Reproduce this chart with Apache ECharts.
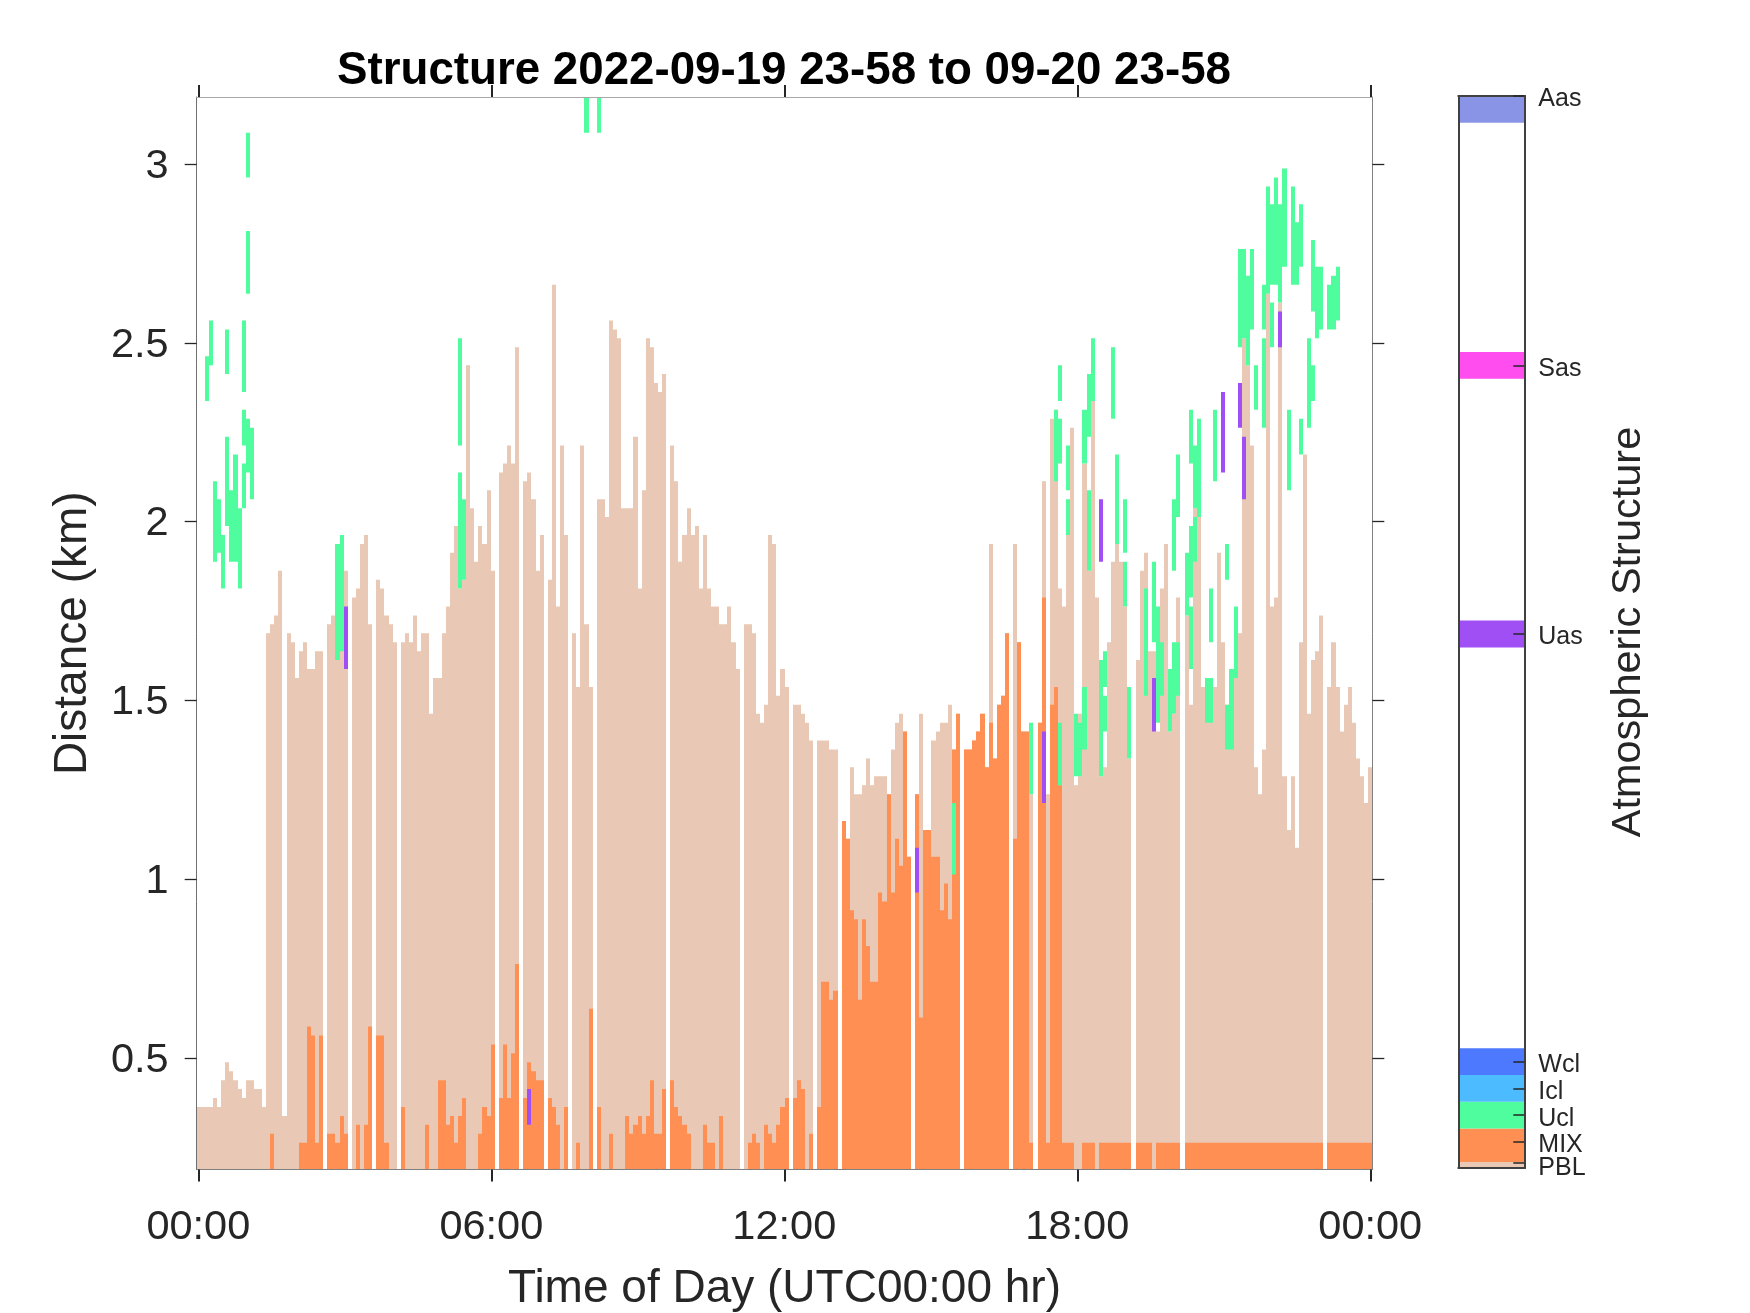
<!DOCTYPE html>
<html><head><meta charset="utf-8">
<style>html,body{margin:0;padding:0;background:#fff}#c{width:1750px;height:1313px}</style>
<script src="https://cdn.jsdelivr.net/npm/echarts@6/dist/echarts.min.js"></script>
</head><body><div id="c"></div>
<script>
const n = null;
// Top of the PBL layer (km) for each 5-minute bin; null = no data
const pblTop = [
.3625,.3625,.3625,.3625,.3875,.3625,.4375,.4875,.4625,.4375,
.4125,.3875,.4375,.4375,.4125,.4125,.3625,1.6875,1.7125,1.7375,
1.8625,.3375,1.6875,1.6625,1.5625,1.6375,1.6625,1.5875,1.5875,1.6375,
1.6375,n,1.7125,1.7375,1.7375,1.8,1.8625,n,1.7875,1.8125,
1.9375,1.9625,1.7125,n,1.8375,1.8125,1.7375,1.7125,1.6625,n,
1.6625,1.6875,1.6625,1.7375,1.6375,1.6875,1.6875,1.4625,1.5625,1.5625,
1.6875,1.7625,1.9125,1.9875,1.8125,1.8375,2.4375,2.0375,1.8875,1.9875,
1.9375,2.0875,1.8625,n,2.1375,2.1625,2.2125,2.1625,2.4875,n,
2.1125,2.1375,2.0625,1.8625,1.9625,n,1.8375,2.6625,1.7625,2.2125,
1.9625,n,1.6875,1.5375,2.2125,1.7125,1.5375,n,2.0625,2.0625,
2.0125,2.5625,2.5375,2.5125,2.0375,2.0375,2.0375,2.2375,1.8125,2.0875,
2.5125,2.4875,2.3875,2.3625,2.4125,n,2.2125,2.1125,1.8875,1.9625,
2.0375,1.9625,1.9875,1.8125,1.9625,1.8125,1.7625,1.7625,1.7125,1.7125,
1.7625,1.6625,1.5875,n,1.7125,1.7125,1.6875,1.4625,1.4375,1.4875,
1.9625,1.9375,1.5125,1.5875,1.5375,n,1.4875,1.4875,1.4625,1.4375,
1.3875,n,1.3875,1.3875,1.3875,1.3625,1.3625,n,1.1625,1.1125,
1.3125,1.2375,1.2375,1.2625,1.3375,1.2625,1.2875,1.2875,1.2875,1.2375,
1.3625,1.4375,1.4625,1.4125,1.0625,n,1.2375,1.4625,1.1375,1.1375,
1.3875,1.4125,1.4375,1.4375,1.4875,1.3625,1.4625,n,1.3625,1.3625,
1.3875,1.4125,1.4625,1.3125,1.9375,1.3375,1.4875,1.5125,1.6875,n,
1.9375,1.6625,1.4125,1.4125,1.2375,n,1.4375,2.1125,1.2375,2.2875,
2.3125,1.8125,1.7625,1.9625,2.2625,1.2625,1.4625,2.1625,1.8625,2.3375,
1.7875,1.2875,1.3125,1.6625,1.8875,1.9375,1.8875,1.7625,1.3375,n,
1.6125,1.8625,1.9125,1.6375,1.6375,1.4125,1.8125,1.9375,1.4125,1.4625,
1.7875,n,1.7375,1.4875,2.0375,2.0125,1.5375,1.5375,1.5375,1.5375,
1.9125,1.6625,1.4875,1.4125,1.6125,1.6875,2.5125,2.4375,2.2125,1.3125,
1.2375,1.3625,2.6375,1.7625,1.7875,2.6125,1.2875,1.1375,1.2875,1.0875,
1.6625,2.1875,1.4625,1.6125,1.6375,1.7375,n,1.5375,1.6625,1.5375,
1.4125,1.4875,1.5375,1.4375,1.3375,1.2875,1.2125,1.3125];
// Top of the MIX layer (km) for each 5-minute bin
const mixTop = [
n,n,n,n,n,n,n,n,n,n,
n,n,n,n,n,n,n,n,.2875,n,
n,n,n,n,n,.2625,.2625,.5875,.5625,.2625,
.5625,n,.2875,.2875,.2625,.3375,.2875,n,n,.3125,
n,.3125,.5875,n,.5625,.5625,.2625,n,n,n,
.3625,n,n,n,n,n,.3125,n,n,.4375,
.4375,.3125,.3375,.2625,.3375,.3875,n,n,n,.2875,
.3625,.3375,.5375,n,.3875,.5375,.3875,.5125,.7625,n,
.3875,.4875,.4625,.4375,.4375,n,.3875,.3625,.3125,n,
.3625,n,n,.2625,n,n,.6375,n,.3625,n,
n,.2875,n,n,n,.3375,.2875,.3125,.3375,.2875,
.3375,.4375,.2875,.2875,.4125,n,.4375,.3625,.3375,.3125,
.2875,n,n,n,.3125,.2625,.2625,n,.3375,n,
n,n,n,n,n,.2625,.2875,.2625,n,.3125,
.2875,.2625,.3125,.3625,.3875,n,.3875,.4375,.4125,n,
.2875,n,.3625,.7125,.7125,.6625,.6875,n,1.1625,1.1125,
.9125,.8875,.6625,.8875,.8125,.7125,.7125,.9625,.9375,1.2375,
.9625,1.1125,1.0375,1.4125,1.0625,n,1.2375,.6125,1.1375,1.1375,
1.0625,1.0625,.9125,.9875,.8875,1.3625,1.4625,n,1.3625,1.3625,
1.3875,1.4125,1.4625,1.3125,1.4375,1.3375,1.4875,1.5125,1.6875,n,
1.1125,1.6625,1.4125,1.4125,.2625,n,1.4375,1.7875,.2625,1.4875,
1.5375,1.2625,.2625,.2625,.2625,n,n,.2625,.2625,.2625,
n,.2625,.2625,.2625,.2625,.2625,.2625,.2625,.2625,n,
.2625,.2625,.2625,.2625,n,.2625,.2625,.2625,.2625,.2625,
.2625,n,.2625,.2625,.2625,.2625,.2625,.2625,.2625,.2625,
.2625,.2625,.2625,.2625,.2625,.2625,.2625,.2625,.2625,.2625,
.2625,.2625,.2625,.2625,.2625,.2625,.2625,.2625,.2625,.2625,
.2625,.2625,.2625,.2625,.2625,.2625,n,.2625,.2625,.2625,
.2625,.2625,.2625,.2625,.2625,.2625,.2625,.2625];
// Cloud layer segments: [bin, top km, bottom km]
const uclSegments = [
[2,2.4625,2.3375],[3,2.5625,2.4375],[4,2.1125,1.8875],[5,2.0625,1.9125],[6,1.9625,1.8125],
[7,2.5375,2.4125],[7,2.2375,1.9875],[8,2.0875,1.8875],[9,2.1875,1.8875],[10,2.0375,1.8125],
[11,2.5625,2.3625],[11,2.3125,2.2125],[11,2.1625,2.0375],[12,3.0875,2.9625],[12,2.8125,2.6375],
[12,2.2875,2.1375],[13,2.2625,2.0625],[34,1.9375,1.6125],[35,1.9625,1.6375],
[64,2.5125,2.2125],[64,2.1375,1.8125],[65,2.0625,1.8375],[95,3.1875,3.0875],[98,3.1875,3.0875],
[185,1.2125,1.0125],[204,1.4375,1.2375],[210,2.3125,2.1125],[211,2.4375,2.3375],[211,2.2875,2.1625],
[211,1.4375,1.2625],[213,2.2125,2.0875],[213,2.0625,1.9625],[215,1.4625,1.2875],[216,1.4375,1.2875],
[217,2.3125,2.1625],[217,1.5375,1.3625],[218,2.4125,2.2375],[218,2.0875,1.8625],[219,2.5125,2.3375],
[221,1.6125,1.2875],[222,1.6375,1.5375],[222,1.5125,1.4125],[224,2.4875,2.2875],[225,2.1875,1.9375],
[227,2.0625,1.9125],[227,1.8875,1.7625],[228,1.5375,1.3375],[232,1.8125,1.5125],[234,1.8875,1.6625],
[235,1.7625,1.4375],[236,1.6625,1.5125],[238,1.5875,1.4125],[239,2.0625,1.8625],[239,1.6625,1.4625],
[240,2.1875,2.0125],[240,1.6625,1.5125],[242,1.9125,1.7375],[243,2.3125,2.1625],[243,1.9875,1.7875],
[243,1.7625,1.5875],[244,2.2125,2.0375],[244,2.0125,1.8875],[245,2.2875,2.0125],[247,1.5625,1.4375],
[248,1.8125,1.6625],[248,1.5625,1.4375],[249,2.3125,2.1125],[252,1.9375,1.8375],[252,1.4875,1.3625],
[253,1.5875,1.3625],[254,1.7625,1.5625],[255,2.7625,2.4875],[256,2.7625,2.5125],[257,2.6875,2.4375],
[258,2.7625,2.5375],[259,2.4375,2.3125],[261,2.6625,2.5375],[261,2.5125,2.2625],[262,2.9375,2.6375],
[263,2.8875,2.6625],[263,2.6125,2.4875],[264,2.9625,2.6625],[265,2.8875,2.6125],[266,2.9875,2.7125],
[267,2.3125,2.0875],[268,2.9375,2.6625],[269,2.8375,2.6625],[270,2.8875,2.7125],[270,2.2875,2.1875],
[272,2.5125,2.2625],[273,2.7875,2.5875],[273,2.4375,2.3375],[274,2.7125,2.5125],[275,2.7125,2.5375],
[277,2.6625,2.5375],[278,2.6875,2.5375],[279,2.7125,2.5625]];
const uasSegments = [
[36,1.7625,1.5875],[81,.4125,.3125],[176,1.0875,.9625],[207,1.4125,1.2125],[221,2.0625,1.8875],
[234,1.5625,1.4125],[251,2.3625,2.1375],[255,2.3875,2.2625],[256,2.2375,2.0625],[265,2.5875,2.4875]];

const xTickMinutes = [0,360,720,1080,1440];
const xTickLabels = ['00:00','06:00','12:00','18:00','00:00'];
const yTicks = [.5,1,1.5,2,2.5,3];
const structureNames  = ['PBL','MIX','Ucl','Icl','Wcl','Uas','Sas','Aas'];
const structureColors = ['#E9C9B5','#FF8F52','#50FD9E','#4DBBFF','#4D79FF','#A04FF5','#FF4DF0','#8A94E6'];
const structureTicks  = [.2,.97,1.97,2.97,3.97,19.93,29.95,40];
const bandLow  = [0,.22,1.47,2.47,3.47,19.425,29.45,39];
const bandHigh = [.22,1.47,2.47,3.47,4.47,20.425,30.45,40];

const yMin = .1875, yMax = 3.1875, xMin = -2, xMax = 1442.5, binCount = 288;
const binWidth = (xMax - xMin) / binCount;
const textColor = '#262626', font = 'Liberation Sans';

const cols = top => top.map((v,i)=> v==null?null:[i, yMin, v]).filter(Boolean);
const segs = s => s.map(d=>[d[0], d[2], d[1]]);

function cell(params, api){
  const i = api.value(0);
  const a = api.coord([xMin + i*binWidth, api.value(2)]);
  const b = api.coord([xMin + (i+1)*binWidth, api.value(1)]);
  const x0 = Math.round(a[0]), x1 = Math.round(b[0]);
  return {type:'rect', shape:{x:x0,y:a[1],width:x1-x0,height:b[1]-a[1]}, style:{fill:api.visual('color')}};
}
function band(params, api){
  const a = api.coord([0, api.value(1)]);
  const b = api.coord([1, api.value(0)]);
  return {type:'rect', shape:{x:a[0],y:a[1],width:b[0]-a[0],height:b[1]-a[1]}, style:{fill:api.visual('color')}};
}
const layer = (name,data,color,z)=>({type:'custom',name,renderItem:cell,data,clip:true,z,
  xAxisIndex:0,yAxisIndex:0,encode:{y:[1,2]},itemStyle:{color},animation:false});

const lineStyle = c=>({show:true,onZero:false,lineStyle:{color:c,width:1}});
const darkLine = {show:true,onZero:false,lineStyle:{color:'#404040',width:2}};
const barAxis = (values, lineHeight, extra)=>Object.assign({type:'value',gridIndex:1,position:'right',min:0,max:40,
  splitLine:{show:false},z:6,axisLine:darkLine,
  axisTick:{show:true,inside:true,length:11,customValues:values,lineStyle:{color:'#262626',width:1.5}},
  axisLabel:{customValues:values,margin:14,verticalAlign:'top',lineHeight,fontFamily:font,fontSize:25,color:textColor,
    showMinLabel:true,showMaxLabel:true,hideOverlap:false,
    formatter:v=>structureNames[structureTicks.indexOf(v)]}},extra);

const chart = echarts.init(document.getElementById('c'));
chart.setOption({
  animation:false,
  backgroundColor:'#fff',
  title:{text:'Structure 2022-09-19 23-58 to 09-20 23-58',left:779,top:43,textAlign:'center',
    textStyle:{fontFamily:font,fontSize:45.7,fontWeight:'bold',color:'#000'}},
  grid:[{left:196.7,top:97,width:1175.6,height:1072.5,outerBoundsMode:'none'},
        {left:1458.3,top:96,width:66,height:1072,outerBoundsMode:'none'}],
  xAxis:[
    {type:'value',gridIndex:0,position:'bottom',min:xMin,max:xMax,splitLine:{show:false},z:5,
     axisLine:lineStyle('#808080'),
     axisTick:{show:true,length:12,customValues:xTickMinutes,lineStyle:{color:textColor,width:2}},
     axisLabel:{customValues:xTickMinutes,margin:37,fontFamily:font,fontSize:41.5,color:textColor,
       formatter:v=>xTickLabels[xTickMinutes.indexOf(v)]},
     name:'Time of Day (UTC00:00 hr)',nameLocation:'middle',nameGap:97,nameMoveOverlap:false,
     nameTextStyle:{fontFamily:font,fontSize:46,color:textColor}},
    {type:'value',gridIndex:0,position:'top',min:xMin,max:xMax,splitLine:{show:false},z:5,
     axisLine:lineStyle('#A8A8A8'),
     axisTick:{show:true,length:12,customValues:xTickMinutes,lineStyle:{color:textColor,width:2}},
     axisLabel:{show:false}},
    {type:'value',gridIndex:1,position:'bottom',min:0,max:1,splitLine:{show:false},z:6,
     axisLine:darkLine,axisTick:{show:false},axisLabel:{show:false}},
    {type:'value',gridIndex:1,position:'top',min:0,max:1,splitLine:{show:false},z:6,
     axisLine:darkLine,axisTick:{show:false},axisLabel:{show:false}}
  ],
  yAxis:[
    {type:'value',gridIndex:0,position:'left',min:yMin,max:yMax,splitLine:{show:false},z:5,
     axisLine:lineStyle('#707070'),
     axisTick:{show:true,length:12,customValues:yTicks,lineStyle:{color:textColor,width:1.3}},
     axisLabel:{customValues:yTicks,margin:28,verticalAlign:'top',lineHeight:5,fontFamily:font,fontSize:41.5,color:textColor,
       formatter:v=>String(v)},
     name:'Distance (km)',nameLocation:'middle',nameGap:100,nameRotate:90,nameMoveOverlap:false,
     nameTextStyle:{fontFamily:font,fontSize:46,color:textColor}},
    {type:'value',gridIndex:0,position:'right',min:yMin,max:yMax,splitLine:{show:false},z:5,
     axisLine:lineStyle('#808080'),
     axisTick:{show:true,length:12,customValues:yTicks,lineStyle:{color:textColor,width:1.3}},
     axisLabel:{show:false}},
    barAxis(structureTicks.slice(1),7,{name:'Atmospheric Structure',nameLocation:'middle',nameGap:83,nameRotate:90,nameMoveOverlap:false,
     nameTextStyle:{fontFamily:font,fontSize:41.5,color:textColor}}),
    barAxis(structureTicks.slice(0,1),10,{}),
    {type:'value',gridIndex:1,position:'left',min:0,max:40,splitLine:{show:false},z:6,
     axisLine:darkLine,axisTick:{show:false},axisLabel:{show:false}}
  ],
  series:[
    layer('PBL',cols(pblTop),structureColors[0],1),
    layer('MIX',cols(mixTop),structureColors[1],2),
    layer('Ucl',segs(uclSegments),structureColors[2],3),
    layer('Uas',segs(uasSegments),structureColors[5],4),
    {type:'custom',name:'Structure colours',renderItem:band,xAxisIndex:2,yAxisIndex:2,z:2,animation:false,
     data:structureNames.map((s,i)=>({value:[bandLow[i],bandHigh[i]],itemStyle:{color:structureColors[i]}})),
     encode:{y:[0,1]}}
  ]
});
</script></body></html>
